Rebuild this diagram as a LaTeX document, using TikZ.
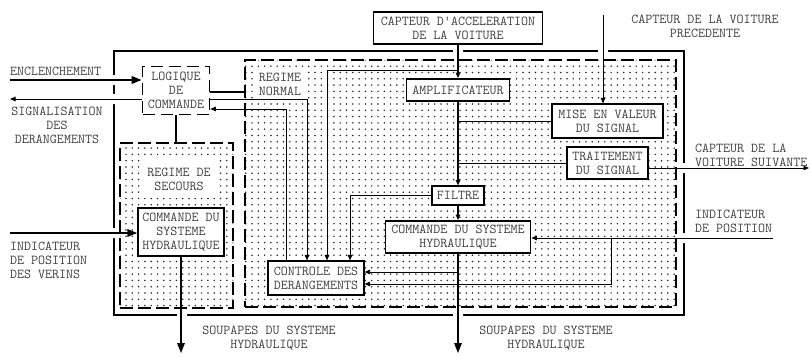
\documentclass[tikz,border=0pt]{standalone}
\usepackage{fontspec}
\usetikzlibrary{arrows.meta,patterns.meta,positioning}
\newcommand\diagfont{\ttfamily\fontsize{13.6pt}{14pt}\selectfont}
\tikzset{
    % boxes
    blk/.style={draw, line width=1.1pt, fill=white, text=black!75, font=\diagfont, align=center, inner sep=1pt},
    heavyblk/.style={blk, line width=1.8pt},
    dashblk/.style={blk, line width=1.7pt, dash pattern=on 12pt off 6pt},
    % dotted zones
    zone/.style={draw, line width=1.7pt, dash pattern=on 13pt off 5pt, inner sep=0pt,
        pattern={Dots[distance=6.3pt,radius=0.85pt]}, pattern color=black!85},
    lbl/.style={text=black!75, font=\diagfont, align=center, inner sep=0pt},
    % connectors
    thinarrow/.style={line width=0.8pt, -{Triangle[length=5.5pt,width=4.5pt]}},
    fatarrow/.style={line width=2pt, -{Triangle[length=10pt,width=7.5pt]}}
}
\begin{document}
\begin{tikzpicture}[x=1pt,y=-1pt]
    \useasboundingbox (0,0) rectangle (811,356);
    % frames
    \node[draw, line width=1.7pt, inner sep=0pt, minimum width=570pt, minimum height=264pt] (outer) at (399,183) {};
    \node[zone, minimum width=431pt, minimum height=247pt] (normal) at (460.5,183.5) {};
    \node[zone, minimum width=113pt, minimum height=165pt] (secours) at (176.5,225.5) {};
    \fill[white]
    (453,47) rectangle ++(10,8) (598,47) rectangle ++(10,8)
    (177,311) rectangle ++(10,8) (453,311) rectangle ++(10,8)
    (110,75) rectangle ++(8,10) (110,94) rectangle ++(8,10) (110,228) rectangle ++(8,10)
    (680,163) rectangle ++(8,10) (680,233) rectangle ++(8,10);
    \node[lbl, fill=white, minimum width=52pt, minimum height=34pt] (normlbl) at (280,84) {REGIME\\NORMAL};
    \node[lbl, fill=white, minimum width=78pt, minimum height=38pt] (secolbl) at (179,179) {REGIME DE\\SECOURS};

    % blocks
    \node[dashblk, minimum width=67pt, minimum height=48pt] (logic) at (176,90.5) {LOGIQUE\\DE\\COMMANDE};
    \node[blk, minimum width=169pt, minimum height=32pt] (capt) at (458,28) {CAPTEUR D'ACCELERATION\\DE LA VOITURE};
    \node[heavyblk, minimum width=103pt, minimum height=22pt] (ampli) at (458,90) {AMPLIFICATEUR};
    \node[blk, minimum width=111pt, minimum height=34pt] (mise) at (607.5,121) {MISE EN VALEUR\\DU SIGNAL};
    \node[blk, minimum width=81pt, minimum height=32pt] (trait) at (607.5,163) {TRAITEMENT\\DU SIGNAL};
    \node[blk, minimum width=52pt, minimum height=19pt] (filtre) at (458,195.5) {FILTRE};
    \node[heavyblk, minimum width=145pt, minimum height=32pt] (cmdc) at (458,237) {COMMANDE DU SYSTEME\\HYDRAULIQUE};
    \node[blk, minimum width=96pt, minimum height=34pt] (ctrl) at (316,278) {CONTROLE DES\\DERANGEMENTS};
    \node[heavyblk, line width=1.4pt, minimum width=86pt, minimum height=48pt] (cmdl) at (181,232) {COMMANDE DU\\SYSTEME\\HYDRAULIQUE};

    % free ends
    \coordinate (encl) at (10,80);
    \coordinate (sign) at (10,99);
    \coordinate (iver) at (10,233);
    \coordinate (prec) at (603,15);
    \coordinate (suiv) at (809,168);
    \coordinate (ipos) at (773,238);
    \coordinate (soupl) at (181,353);
    \coordinate (soupc) at (458,353);
    \coordinate (l1) at ([yshift=-1.5pt]logic.east);
    \coordinate (l2) at ([yshift=-8.5pt]logic.east);
    \coordinate (l3) at ([yshift=-18.5pt]logic.east);
    \coordinate (c1) at ([yshift=6pt]ctrl.east);
    \coordinate (c2) at ([yshift=-6pt]ctrl.east);

    % connectors
    \draw[fatarrow] (encl) -- (encl -| logic.west);
    \draw[thinarrow] (sign -| logic.west) -- (sign);
    \draw[fatarrow] (iver) -- (iver -| cmdl.west);
    \draw[line width=2pt] (l1) -- (l1 -| normal.west);
    \draw[line width=2pt] (logic.south) -- (logic.south |- secours.north);
    \draw[thinarrow] (l2) -| ([xshift=-9pt]ctrl.north);
    \draw[thinarrow] ([xshift=-30pt]ctrl.north) |- (l3);
    \draw[thinarrow] (capt.south |- 0,70) -| ([xshift=11pt]ctrl.north);
    \draw[thinarrow] (filtre.west) -| ([xshift=34pt]ctrl.north);
    \draw[thinarrow, line width=1.1pt] (capt.south) -- (ampli.north);
    \draw[thinarrow, line width=1.1pt] (ampli.south) -- (filtre.north);
    \draw[thinarrow, line width=1.1pt] (filtre.south) -- (cmdc.north);
    \draw[line width=0.8pt] (mise.west) -- (mise.west -| ampli.south);
    \draw[line width=0.8pt] (trait.west) -- (trait.west -| ampli.south);
    \draw[thinarrow] (prec) -- (prec |- mise.north);
    \draw[thinarrow] (suiv -| trait.east) -- (suiv);
    \draw[thinarrow] (ipos) -- (ipos -| cmdc.east);
    \draw[thinarrow] (ipos -| 611,0) |- (c2);
    \draw[thinarrow] (c1 -| cmdc.south) -- (c1);
    \draw[fatarrow, line width=1.4pt] (cmdc.south) -- (soupc);
    \draw[fatarrow, line width=1.4pt] (cmdl.south) -- (soupl);

    % outside labels
    \node[lbl, anchor=base west] (encllbl) at (10,75) {ENCLENCHEMENT};
    \node[lbl] (signlbl) at (57,125.5) {SIGNALISATION\\DES\\DERANGEMENTS};
    \node[lbl, align=left, anchor=west] (iverlbl) at (10,260) {INDICATEUR\\DE POSITION\\DES VERINS};
    \node[lbl] (preclbl) at (705,26.5) {CAPTEUR DE LA VOITURE\\PRECEDENTE};
    \node[lbl, align=left, anchor=west] (suivlbl) at (695,155) {CAPTEUR DE LA\\VOITURE SUIVANTE};
    \node[lbl, align=left, anchor=west] (iposlbl) at (695,221) {INDICATEUR\\DE POSITION};
    \node[lbl] (souplbl) at (269,338) {SOUPAPES DU SYSTEME\\HYDRAULIQUE};
    \node[lbl] (soupclbl) at (546,338) {SOUPAPES DU SYSTEME\\HYDRAULIQUE};
\end{tikzpicture}
\end{document}
